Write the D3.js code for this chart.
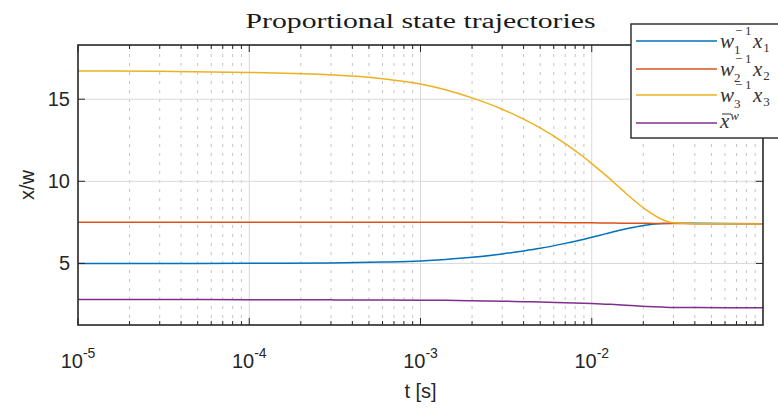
<!DOCTYPE html>
<html>
<head>
<meta charset="utf-8">
<script src="https://cdn.jsdelivr.net/npm/d3@7"></script>
<style>
  body { margin: 0; background: #fff; }
  svg { display: block; }
</style>
</head>
<body>
<div id="chart"></div>
<script>
// time samples [s]
const time = [1e-5, 3e-5, 1e-4, 3e-4, 6e-4, 1e-3, 1.4e-3, 2e-3, 3e-3, 4e-3, 5e-3, 7e-3, 8.9e-3,
              1e-2, 1.2e-2, 1.5e-2, 1.8e-2, 2.1e-2, 2.6e-2, 3e-2, 4e-2, 6e-2, 1e-1];

// series
const x1w = [5.00, 5.00, 5.01, 5.03, 5.08, 5.15, 5.24, 5.37, 5.58, 5.76, 5.92, 6.22, 6.46,
             6.59, 6.80, 7.05, 7.22, 7.34, 7.43, 7.45, 7.44, 7.43, 7.42];
const x2w = [7.50, 7.50, 7.50, 7.50, 7.50, 7.50, 7.50, 7.50, 7.50, 7.49, 7.49, 7.48, 7.47,
             7.47, 7.46, 7.45, 7.44, 7.44, 7.43, 7.43, 7.42, 7.42, 7.42];
const x3w = [16.72, 16.70, 16.63, 16.48, 16.25, 15.93, 15.58, 15.08, 14.39, 13.79, 13.25, 12.30, 11.51,
             11.08, 10.39, 9.49, 8.77, 8.23, 7.66, 7.47, 7.42, 7.41, 7.40];
const xbar = [2.80, 2.80, 2.79, 2.78, 2.77, 2.76, 2.75, 2.73, 2.70, 2.67, 2.65, 2.61, 2.58,
              2.56, 2.52, 2.47, 2.42, 2.38, 2.34, 2.32, 2.31, 2.30, 2.30];

const seriesNames = ["w1", "w2", "w3", "xbar"];
const colors = ["#0072BD", "#D95319", "#EDB120", "#7E2F8E"];

const xTicks = [1e-5, 1e-4, 1e-3, 1e-2];
const xTickExps = ["-5", "-4", "-3", "-2"];
const yTicks = [5, 10, 15];

const width = 778, height = 409;
const mLeft = 78, mRight = 763, mTop = 45, mBottom = 325;
const axisColor = "#262626";

const svg = d3.select("#chart").append("svg")
  .attr("width", width).attr("height", height);

const x = d3.scaleLog().domain([1e-5, 1e-1]).range([mLeft, mRight]);
const y = d3.scaleLinear().domain([1.25, 18.3]).range([mBottom, mTop]);

// minor ticks 2..9 in each decade
const minorTicks = x.ticks().filter(t => !xTicks.some(m => Math.abs(m - t) / m < 1e-6) && t < 0.099);

// grid
svg.append("g").selectAll("line").data(minorTicks).join("line")
  .attr("x1", d => x(d)).attr("x2", d => x(d))
  .attr("y1", mTop).attr("y2", mBottom)
  .attr("stroke", "#c4c4c4").attr("stroke-width", 1)
  .attr("stroke-dasharray", "3,6");

svg.append("g").selectAll("line").data(xTicks.slice(1)).join("line")
  .attr("x1", d => x(d)).attr("x2", d => x(d))
  .attr("y1", mTop).attr("y2", mBottom)
  .attr("stroke", "#d9d9d9").attr("stroke-width", 1);

svg.append("g").selectAll("line").data(yTicks).join("line")
  .attr("x1", mLeft).attr("x2", mRight)
  .attr("y1", d => y(d)).attr("y2", d => y(d))
  .attr("stroke", "#d9d9d9").attr("stroke-width", 1);

// curves
const series = [x1w, x2w, x3w, xbar];
const line = d3.line()
  .x((d, i) => x(time[i]))
  .y(d => y(d))
  .curve(d3.curveMonotoneX);

svg.append("g").selectAll("path").data(series).join("path")
  .attr("d", d => line(d))
  .attr("fill", "none")
  .attr("stroke", (d, i) => colors[i])
  .attr("stroke-width", 1.5);

// axes box + ticks (inward, on all sides like matlab)
const ax = svg.append("g").attr("stroke", axisColor).attr("stroke-width", 1);
xTicks.forEach(t => {
  ax.append("line").attr("x1", x(t)).attr("x2", x(t)).attr("y1", mBottom).attr("y2", mBottom - 7);
  ax.append("line").attr("x1", x(t)).attr("x2", x(t)).attr("y1", mTop).attr("y2", mTop + 7);
});
minorTicks.forEach(t => {
  ax.append("line").attr("x1", x(t)).attr("x2", x(t)).attr("y1", mBottom).attr("y2", mBottom - 4);
  ax.append("line").attr("x1", x(t)).attr("x2", x(t)).attr("y1", mTop).attr("y2", mTop + 4);
});
yTicks.forEach(t => {
  ax.append("line").attr("x1", mLeft).attr("x2", mLeft + 7).attr("y1", y(t)).attr("y2", y(t));
  ax.append("line").attr("x1", mRight).attr("x2", mRight - 7).attr("y1", y(t)).attr("y2", y(t));
});
svg.append("rect")
  .attr("x", mLeft).attr("y", mTop)
  .attr("width", mRight - mLeft).attr("height", mBottom - mTop)
  .attr("fill", "none").attr("stroke", axisColor).attr("stroke-width", 1.6);

// tick labels
const font = "'Liberation Sans', Arial, sans-serif";
svg.append("g").selectAll("text").data(yTicks).join("text")
  .attr("x", mLeft - 8).attr("y", d => y(d) + 7)
  .attr("text-anchor", "end")
  .attr("font-family", font).attr("font-size", 20)
  .attr("fill", axisColor)
  .text(d => d);

const xl = svg.append("g").selectAll("text").data(xTicks).join("text")
  .attr("x", d => x(d)).attr("y", 368)
  .attr("text-anchor", "middle")
  .attr("font-family", font).attr("font-size", 20)
  .attr("fill", axisColor);
xl.append("tspan").text("10");
xl.append("tspan").attr("dy", -10).attr("font-size", 14).text((d, i) => xTickExps[i]);

// axis labels
svg.append("text")
  .attr("x", (mLeft + mRight) / 2).attr("y", 398)
  .attr("text-anchor", "middle")
  .attr("font-family", font).attr("font-size", 20)
  .attr("fill", axisColor)
  .text("t [s]");

svg.append("text")
  .attr("transform", "translate(34," + (mTop + mBottom) / 2 + ") rotate(-90)")
  .attr("text-anchor", "middle")
  .attr("font-family", font).attr("font-size", 20)
  .attr("fill", axisColor)
  .text("x/w");

// title
svg.append("text")
  .attr("x", (mLeft + mRight) / 2).attr("y", 28)
  .attr("text-anchor", "middle")
  .attr("font-family", "'Liberation Serif', 'DejaVu Serif', serif")
  .attr("font-size", 20)
  .attr("textLength", 350).attr("lengthAdjust", "spacingAndGlyphs")
  .attr("fill", "#1a1a1a")
  .text("Proportional state trajectories");

// legend
const lg = svg.append("g");
lg.append("rect")
  .attr("x", 631).attr("y", 24)
  .attr("width", 160).attr("height", 114)
  .attr("fill", "#fff").attr("stroke", axisColor).attr("stroke-width", 1.4);

const legendY = [41, 69, 95, 123];
const serif = "'Liberation Serif', 'DejaVu Serif', serif";
seriesNames.forEach((name, i) => {
  const ly = legendY[i];
  lg.append("line")
    .attr("x1", 636).attr("x2", 717).attr("y1", ly).attr("y2", ly)
    .attr("stroke", colors[i]).attr("stroke-width", 1.5);
  if (i < 3) {
    // w_i^{-1} x_i with stacked sub/superscript
    const t = lg.append("text")
      .attr("x", 720).attr("y", ly + 7)
      .attr("font-family", serif).attr("fill", "#333");
    t.append("tspan").attr("font-size", 21).attr("font-style", "italic").text("w");
    t.append("tspan").attr("font-size", 13).attr("dy", 6).text(i + 1);
    t.append("tspan").attr("font-size", 13).attr("x", 735).attr("dy", -19).text("\u2212\u20091");
    t.append("tspan").attr("font-size", 21).attr("font-style", "italic")
      .attr("x", 753).attr("dy", 13).text("x");
    t.append("tspan").attr("font-size", 13).attr("dx", 1).attr("dy", 4).text(i + 1);
  } else {
    const t = lg.append("text")
      .attr("x", 720).attr("y", ly + 5)
      .attr("font-family", serif).attr("fill", "#333");
    t.append("tspan").attr("font-size", 21).attr("font-style", "italic").text("x");
    t.append("tspan").attr("font-size", 13).attr("font-style", "italic")
      .attr("dx", 1).attr("dy", -8).text("w");
    lg.append("line")
      .attr("x1", 722).attr("x2", 731).attr("y1", ly - 9).attr("y2", ly - 9)
      .attr("stroke", "#333").attr("stroke-width", 1);
  }
});
</script>
</body>
</html>
